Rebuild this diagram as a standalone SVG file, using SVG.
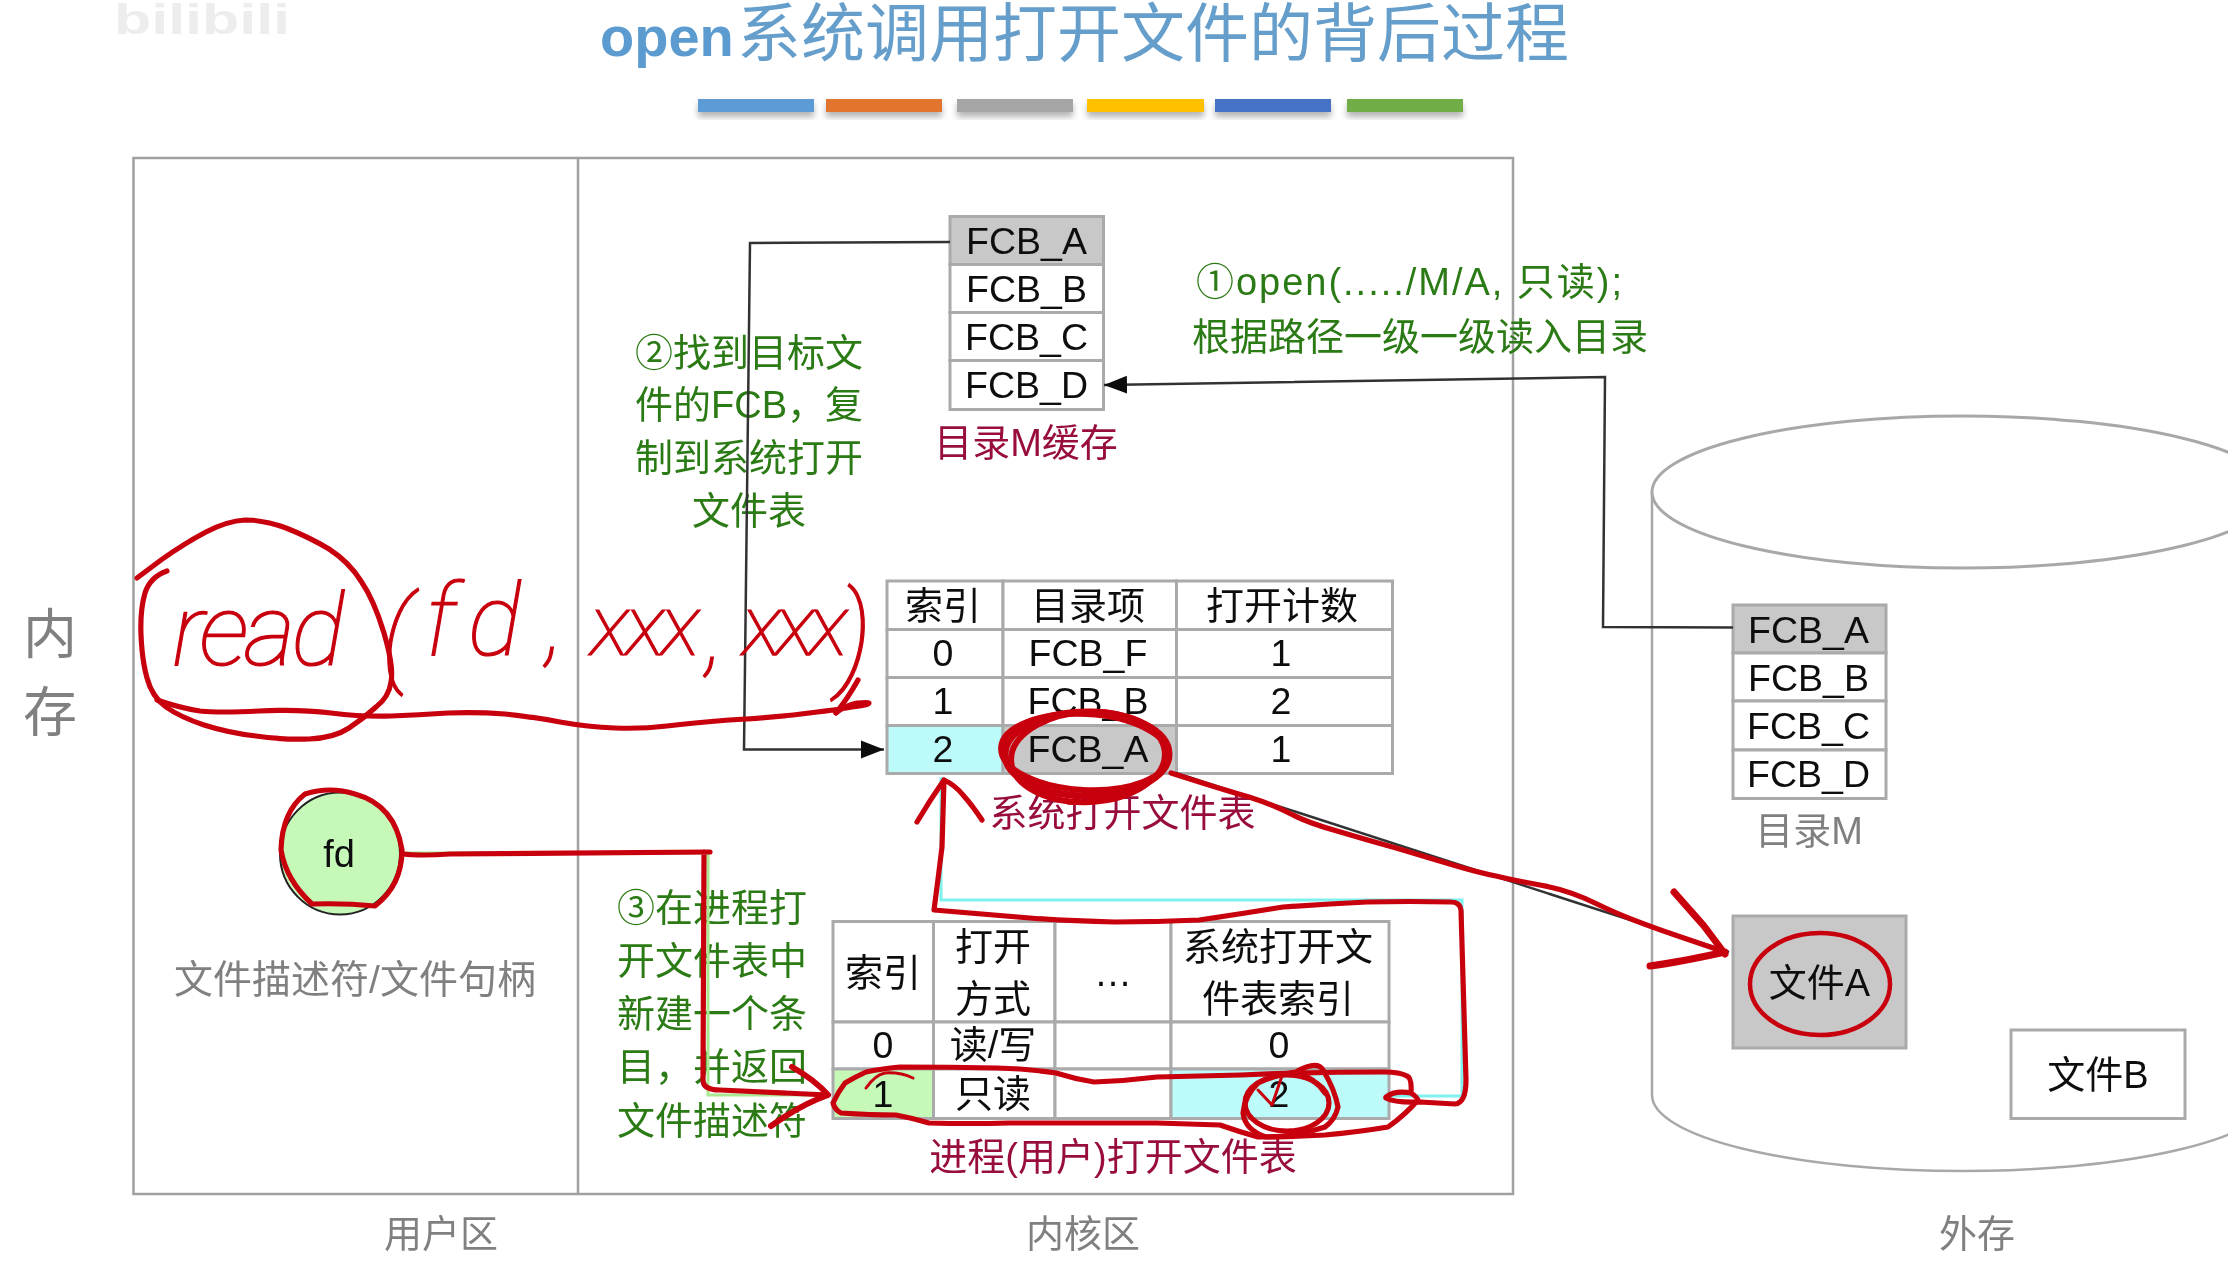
<svg xmlns="http://www.w3.org/2000/svg" width="2228" height="1263" viewBox="0 0 2228 1263">
<style>
text{font-family:"Liberation Sans","Noto Sans CJK SC",sans-serif;font-size:38px;text-anchor:middle;fill:#111}
.g{fill:#2c7a14}
.r{fill:#98103e}
.y{fill:#808080}
.c{fill:#fff;stroke:#aaa;stroke-width:3}
.f{fill:#c8c8c8;stroke:#aaa;stroke-width:3}
.cy{fill:#bdfbfb;stroke:#aaa;stroke-width:3}
.gr{fill:#c6f9b8;stroke:#aaa;stroke-width:3}
.n{font-size:37.500px}
.box{fill:none;stroke:#a0a0a0;stroke-width:2.5}
.conn{fill:none;stroke:#333;stroke-width:2.5}
.ink{fill:none;stroke:#c8000f;stroke-width:5.200;stroke-linecap:round;stroke-linejoin:round}
.hand{font-family:"Roboto",sans-serif;font-style:italic;font-weight:100;fill:#c8000f;stroke:#c8000f;stroke-width:1.200;text-anchor:start}
.bar{filter:url(#sh)}
</style>
<defs>
<filter id="soft" filterUnits="userSpaceOnUse" x="0" y="0" width="2228" height="1263"><feGaussianBlur stdDeviation="0.6"/></filter>
<filter id="sh" x="-5%" y="-30%" width="110%" height="190%"><feDropShadow dx="0" dy="5" stdDeviation="3" flood-color="#777" flood-opacity="0.55"/></filter>
<marker id="arr" markerUnits="userSpaceOnUse" markerWidth="24" markerHeight="20" refX="23" refY="10" orient="auto"><path d="M0 1L23 10L0 19Z" fill="#111"/></marker>
</defs>
<rect width="2228" height="1263" fill="#fff"/>
<g filter="url(#soft)">
<g id="watermark"><text x="202" y="34" textLength="176" lengthAdjust="spacingAndGlyphs" style="font-size:42px;font-weight:bold;fill:#ededed">bilibili</text></g>
<g id="title"><text x="600" y="56" style="text-anchor:start;font-size:64px;fill:#659ecb"><tspan style="font-weight:bold;font-size:56px;fill:#5b9bd0">open</tspan><tspan x="737">系统调用打开文件的背后过程</tspan></text></g>
<g id="title-bars">
<rect class="bar" x="698" y="99" width="116" height="13" fill="#5b9bd5"/>
<rect class="bar" x="826" y="99" width="116" height="13" fill="#e2752f"/>
<rect class="bar" x="957" y="99" width="116" height="13" fill="#a5a5a5"/>
<rect class="bar" x="1087" y="99" width="117" height="13" fill="#ffc000"/>
<rect class="bar" x="1215" y="99" width="116" height="13" fill="#4472c4"/>
<rect class="bar" x="1347" y="99" width="116" height="13" fill="#70ad47"/>
</g>
<g id="memory">
<rect class="box" x="133.5" y="158" width="1379.5" height="1036"/>
<line class="box" x1="578" y1="158" x2="578" y2="1194"/>
<text class="y" x="50" y="654" style="font-size:54px">内</text>
<text class="y" x="50" y="732" style="font-size:54px">存</text>
<text class="y" x="441" y="1247">用户区</text>
<text class="y" x="1083" y="1247">内核区</text>
</g>
<g id="disk">
<path d="M1652 492V1095A311 76 0 0 0 2274 1095" fill="none" stroke="#a8a8a8" stroke-width="2.5"/>
<ellipse cx="1963" cy="492" rx="311" ry="76" fill="#fff" stroke="#a8a8a8" stroke-width="3"/>
<text class="y" x="1977" y="1247">外存</text>
</g>
<g id="dir-cache">
<rect class="f" x="950" y="216.500" width="153.500" height="48"/>
<rect class="c" x="950" y="264.500" width="153.500" height="48"/>
<rect class="c" x="950" y="312.500" width="153.500" height="48"/>
<rect class="c" x="950" y="360.500" width="153.500" height="49"/>
<text class="n" x="1026.500" y="254">FCB_A</text>
<text class="n" x="1026.500" y="302">FCB_B</text>
<text class="n" x="1026.500" y="350">FCB_C</text>
<text class="n" x="1026.500" y="398">FCB_D</text>
<text class="r" x="1026" y="456">目录M缓存</text>
</g>
<g id="dir-disk">
<rect class="f" x="1733" y="605" width="153" height="48"/>
<rect class="c" x="1733" y="653" width="153" height="48"/>
<rect class="c" x="1733" y="701" width="153" height="49"/>
<rect class="c" x="1733" y="750" width="153" height="48.500"/>
<text class="n" x="1808.500" y="643">FCB_A</text>
<text class="n" x="1808.500" y="691">FCB_B</text>
<text class="n" x="1808.500" y="739">FCB_C</text>
<text class="n" x="1808.500" y="787">FCB_D</text>
<text class="y" x="1809" y="844">目录M</text>
</g>
<g id="file-a"><rect class="f" x="1733" y="916" width="173" height="132"/><text x="1819.500" y="996">文件A</text></g>
<g id="file-b"><rect class="c" x="2011" y="1030" width="174" height="88.500"/><text x="2098" y="1088">文件B</text></g>
<g id="fd"><ellipse cx="340" cy="853.500" rx="60" ry="61" fill="#c6f9b8" stroke="#222" stroke-width="2"/><text x="339" y="867">fd</text>
<text class="y" x="355" y="993" style="font-size:39px">文件描述符/文件句柄</text></g>
<g id="sys-table">
<rect class="c" x="887" y="581" width="116" height="48.500"/><rect class="c" x="1003" y="581" width="173.500" height="48.500"/><rect class="c" x="1176.500" y="581" width="216" height="48.500"/>
<rect class="c" x="887" y="629.500" width="116" height="48"/><rect class="c" x="1003" y="629.500" width="173.500" height="48"/><rect class="c" x="1176.500" y="629.500" width="216" height="48"/>
<rect class="c" x="887" y="677.500" width="116" height="48"/><rect class="c" x="1003" y="677.500" width="173.500" height="48"/><rect class="c" x="1176.500" y="677.500" width="216" height="48"/>
<rect class="cy" x="887" y="725.500" width="116" height="48"/><rect class="f" x="1003" y="725.500" width="173.500" height="48"/><rect class="c" x="1176.500" y="725.500" width="216" height="48"/>
<text x="943" y="619">索引</text><text x="1088" y="619">目录项</text><text x="1282" y="619">打开计数</text>
<text class="n" x="943" y="666">0</text><text class="n" x="1088" y="666">FCB_F</text><text class="n" x="1281" y="666">1</text>
<text class="n" x="943" y="714">1</text><text class="n" x="1088" y="714">FCB_B</text><text class="n" x="1281" y="714">2</text>
<text class="n" x="943" y="762">2</text><text class="n" x="1088" y="762">FCB_A</text><text class="n" x="1281" y="762">1</text>
<text class="r" x="1122.500" y="826">系统打开文件表</text>
</g>
<g id="proc-table">
<rect class="c" x="833" y="921.500" width="100.500" height="100.500"/><rect class="c" x="933.500" y="921.500" width="121.500" height="100.500"/><rect class="c" x="1055" y="921.500" width="116" height="100.500"/><rect class="c" x="1171" y="921.500" width="218" height="100.500"/>
<rect class="c" x="833" y="1022" width="100.500" height="47"/><rect class="c" x="933.500" y="1022" width="121.500" height="47"/><rect class="c" x="1055" y="1022" width="116" height="47"/><rect class="c" x="1171" y="1022" width="218" height="47"/>
<rect class="gr" x="833" y="1069" width="100.500" height="49.500"/><rect class="c" x="933.500" y="1069" width="121.500" height="49.500"/><rect class="c" x="1055" y="1069" width="116" height="49.500"/><rect class="cy" x="1171" y="1069" width="218" height="49.500"/>
<text x="883" y="986">索引</text><text x="993" y="960">打开</text><text x="993" y="1012">方式</text><text x="1113" y="986">…</text>
<text x="1278" y="960">系统打开文</text><text x="1278" y="1012">件表索引</text>
<text class="n" x="883" y="1058">0</text><text x="993" y="1058">读/写</text><text class="n" x="1279" y="1058">0</text>
<text class="n" x="883" y="1107">1</text><text x="993" y="1107">只读</text><text class="n" x="1279" y="1107">2</text>
<text class="r" x="1113" y="1170">进程(用户)打开文件表</text>
</g>
<g id="notes">
<text class="g" x="1409" y="295" textLength="426" lengthAdjust="spacing">①open(...../M/A, 只读);</text>
<text class="g" x="1420" y="350">根据路径一级一级读入目录</text>
<text class="g" x="749" y="366">②找到目标文</text>
<text class="g" x="749" y="418">件的FCB，复</text>
<text class="g" x="749" y="471">制到系统打开</text>
<text class="g" x="749" y="524">文件表</text>
<text class="g" x="712" y="921">③在进程打</text>
<text class="g" x="712" y="974">开文件表中</text>
<text class="g" x="712" y="1027">新建一个条</text>
<text class="g" x="712" y="1080">目，并返回</text>
<text class="g" x="712" y="1134">文件描述符</text>
</g>
<g id="connectors">
<path class="conn" marker-end="url(#arr)" d="M1733 627.500L1603 627L1605 377L1104 385"/>
<path class="conn" marker-end="url(#arr)" d="M950 242L750 243L744 749.500H884"/>
<path class="conn" d="M1176 773L1729 952"/>
<path class="conn" style="stroke:#7ff2ee;stroke-width:3" d="M1389 1096H1462V900H941V777"/>
<path class="conn" style="stroke:#a8e890;stroke-width:3" d="M400 853H708V1095H830"/>
</g>
<g id="handwriting">
<text class="hand" style="font-size:100px"><tspan x="172" y="665" letter-spacing="-4">read</tspan><tspan x="382" y="672" style="font-size:105px">(</tspan><tspan x="425 468" y="655">fd</tspan><tspan x="546" y="655">,</tspan><tspan x="590" y="655" style="font-size:85px" letter-spacing="-4">xxx</tspan><tspan x="706" y="665">,</tspan><tspan x="742" y="655" style="font-size:85px" letter-spacing="-6">xxx</tspan><tspan x="838" y="675" style="font-size:115px">)</tspan></text>
<path class="ink" d="M137 578L161 560Q185 543 206 532Q227 521 245 520Q264 520 286 528Q309 537 329 549Q349 562 361 581Q374 600 384 633Q394 667 391 682Q389 697 376 707Q364 718 349 728Q334 738 309 739Q284 740 256 736Q229 733 204 725Q180 717 166 707Q152 697 147 678Q142 660 141 635Q140 610 145 593Q150 577 167 571"/>
<path class="ink" d="M157 700Q180 708 200 711Q219 713 259 711Q299 709 331 713Q364 717 391 716Q418 715 448 713Q478 712 505 714Q533 717 560 722Q588 727 615 728Q642 729 667 726Q692 723 729 720Q767 718 801 714Q836 710 852 707Q869 705 869 703Q869 702 857 703Q846 705 836 713"/>
<path class="ink" d="M858 680Q848 698 836 713"/>
<path class="ink" d="M312 904Q286 880 281 850Q282 812 305 794Q330 786 355 794Q395 805 402 850Q402 885 375 906Q345 903 312 904"/>
<path class="ink" d="M403 854Q420 856 450 854L710 852M704 852L703 1080Q703 1090 720 1090L828 1095"/>
<path class="ink" style="stroke-width:6" d="M792 1067Q815 1080 828 1095Q800 1105 771 1126"/>
<path class="ink" d="M1386 1097Q1395 1090 1411 1093Q1412 1078 1407 1076Q1400 1072 1384 1072Q1310 1072 1241 1075Q1200 1076 1157 1077Q1125 1081 1094 1082Q1075 1079 1056 1073Q1030 1069 997 1068Q950 1067 900 1067Q880 1069 866 1072Q855 1077 845 1083Q838 1092 833 1103Q835 1110 841 1113Q870 1115 896 1115Q912 1118 929 1123Q970 1124 1009 1123Q1085 1123 1157 1123Q1190 1124 1220 1125Q1240 1132 1258 1137Q1290 1137 1325 1135Q1358 1132 1388 1127Q1405 1115 1418 1100Q1415 1095 1411 1093"/>
<path class="ink" d="M1386 1098Q1395 1103 1420 1102L1455 1104Q1466 1103 1466 1080L1461 910Q1460 902 1451 902Q1410 901 1367 902Q1325 904 1283 907Q1240 914 1199 920Q1157 922 1115 922Q1070 921 1030 918Q980 914 934 910Q938 880 942 847L944 780"/>
<path class="ink" d="M917 822Q930 800 944 780Q955 785 963 795Q972 805 982 820"/>
<ellipse class="ink" cx="1287" cy="1103" rx="42" ry="28"/>
<path class="ink" d="M1296 1072Q1317 1060 1323 1070Q1335 1090 1338 1107Q1335 1120 1325 1127Q1295 1137 1266 1137Q1245 1130 1243 1113Q1245 1095 1258 1083Q1275 1075 1296 1072Q1315 1078 1325 1093"/>
<path class="ink" style="stroke-width:3" d="M1258 1090L1272 1105L1283 1073"/>
<path class="ink" style="stroke-width:3" d="M866 1088Q875 1075 885 1073Q900 1072 913 1078"/>
<ellipse class="ink" style="stroke-width:7" cx="1087" cy="754" rx="82" ry="42"/>
<ellipse class="ink" style="stroke-width:6" cx="1088" cy="757" rx="77" ry="45" transform="rotate(-3 1088 757)"/>
<ellipse class="ink" style="stroke-width:6" cx="1085" cy="752" rx="84" ry="38" transform="rotate(3 1085 752)"/>
<path class="ink" d="M1171 773Q1224 790 1249 797Q1274 805 1291 814Q1308 823 1337 831Q1367 840 1396 848Q1426 857 1453 865Q1480 873 1496 876Q1512 880 1540 885Q1569 890 1597 904Q1625 918 1675 935L1725 952"/>
<path class="ink" style="stroke-width:7" d="M1674 892L1704 926L1725 954M1650 966Q1680 962 1725 952"/>
<ellipse class="ink" style="stroke-width:4.500" cx="1820" cy="984" rx="70" ry="51"/>
</g>
</g>
</svg>
